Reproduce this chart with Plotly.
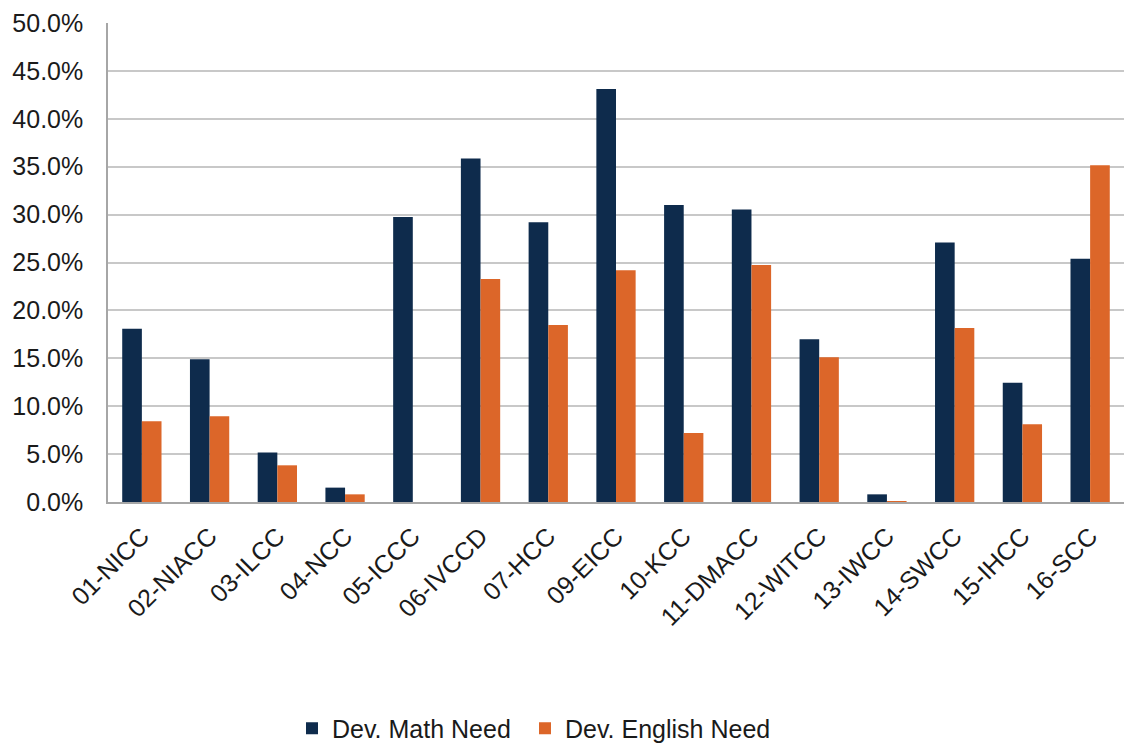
import plotly.graph_objects as go

categories = ["01-NICC", "02-NIACC", "03-ILCC", "04-NCC", "05-ICCC", "06-IVCCD", "07-HCC",
              "09-EICC", "10-KCC", "11-DMACC", "12-WITCC", "13-IWCC", "14-SWCC", "15-IHCC", "16-SCC"]
math_need = [0.1808, 0.1491, 0.0516, 0.0150, 0.2976, 0.3585, 0.2920,
             0.4310, 0.3100, 0.3052, 0.1700, 0.0080, 0.2710, 0.1244, 0.2540]
english_need = [0.0843, 0.0895, 0.0383, 0.0080, 0.0, 0.2328, 0.1847,
                0.2418, 0.0721, 0.2474, 0.1512, 0.0010, 0.1815, 0.0812, 0.3516]

FONT = "Liberation Sans, Arial, sans-serif"
FS = 25

fig = go.Figure()
fig.add_trace(go.Bar(x=categories, y=math_need, name="Dev. Math Need", legend="legend",
                     marker=dict(color="#0E2B4C", line=dict(width=0))))
fig.add_trace(go.Bar(x=categories, y=english_need, name="Dev. English Need", legend="legend2",
                     marker=dict(color="#DC6629", line=dict(width=0))))

W, H = 1124, 745
leg_common = dict(orientation="h", xref="container", yref="container",
                  xanchor="left", y=0.022, yanchor="middle",
                  font=dict(size=FS, color="#1a1a1a"), itemwidth=30,
                  bgcolor="rgba(0,0,0,0)")
fig.update_layout(
    width=W, height=H,
    margin=dict(l=108, r=0, t=23, b=243, autoexpand=False),
    paper_bgcolor="white", plot_bgcolor="white",
    barmode="group", bargap=0.42, bargroupgap=0,
    font=dict(family=FONT, size=FS, color="#1a1a1a"),
    showlegend=True,
    legend=dict(x=292 / W, **leg_common),
    legend2=dict(x=525 / W, **leg_common),
    xaxis=dict(tickangle=-45, showline=True, linecolor="#A6A6A6", linewidth=1.5,
               showgrid=False, ticks="", tickfont=dict(size=FS), automargin=False,
               ticklabelstandoff=8),
    yaxis=dict(range=[0, 0.5], dtick=0.05, tickformat=".1%", showline=True,
               linecolor="#A6A6A6", linewidth=1.5, showgrid=True,
               gridcolor="#C8C8C8", gridwidth=1.5, ticks="", zeroline=False,
               tickfont=dict(size=FS), ticklabelstandoff=18, automargin=False),
)

fig.write_html("out.html", config={"displayModeBar": False},
               post_script="document.body.style.margin='0';document.body.style.overflow='hidden';")
